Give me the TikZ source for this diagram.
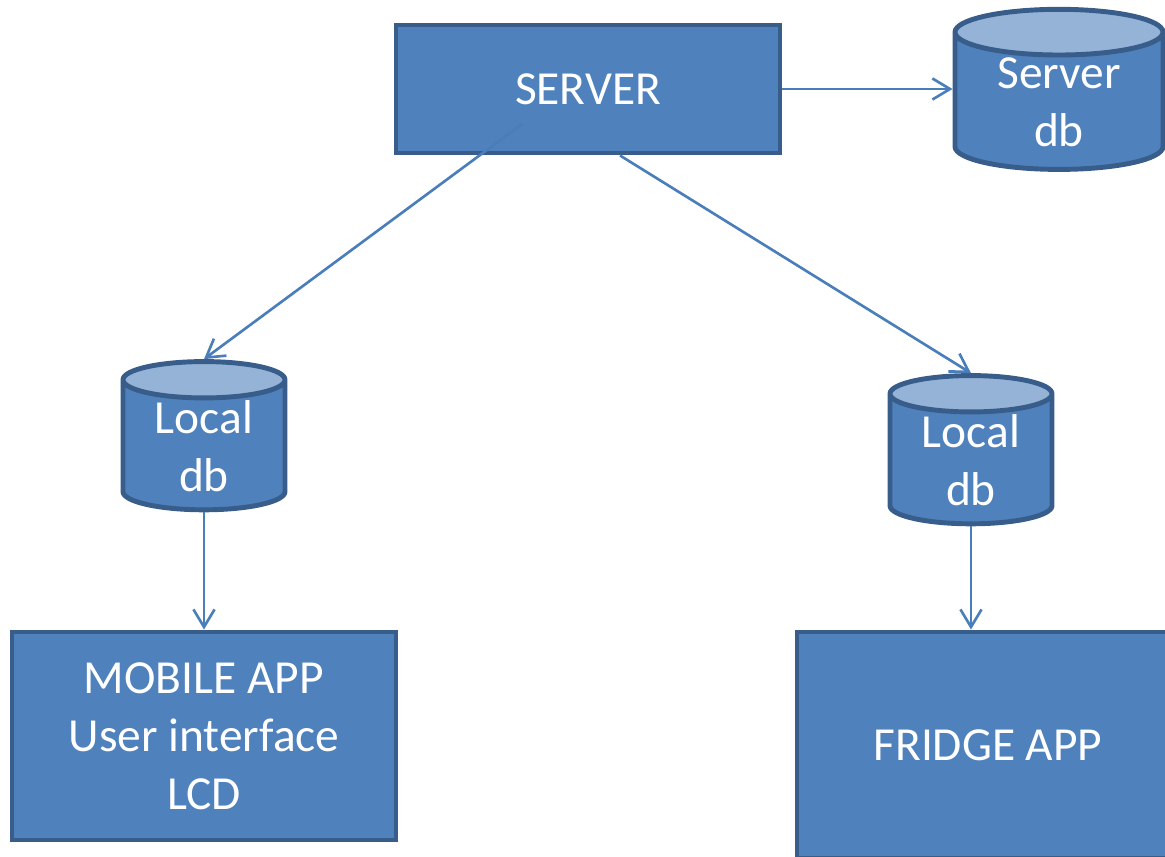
\documentclass[tikz,border=0pt]{standalone}
\usepackage{fontspec}
\setmainfont{Carlito}
\usetikzlibrary{shapes.geometric,arrows.meta,calc}

\definecolor{boxfill}{HTML}{4F81BD}
\definecolor{boxedge}{HTML}{385D8A}
\definecolor{dbtop}{HTML}{95B3D7}
\definecolor{linkcol}{HTML}{4A7EBB}

\tikzset{
  block/.style={rectangle, fill=boxfill, draw=boxedge, line width=1.4pt,
    text=white, align=center, inner sep=0pt,
    font=\fontsize{13.5}{16.5}\selectfont},
  dbase/.style={cylinder, shape border rotate=90, aspect=0.37,
    cylinder uses custom fill, cylinder body fill=boxfill,
    cylinder end fill=dbtop, draw=boxedge, line width=1.4pt,
    text=white, align=center, inner sep=0pt,
    font=\fontsize{13.5}{16.5}\selectfont},
  link/.style={draw=linkcol, line width=0.75pt,
    -{Straight Barb[length=5pt,width=6pt]}}
}

\begin{document}
\begin{tikzpicture}
  \useasboundingbox (0,0) rectangle (11.65,-8.56);
  \clip (0,0) rectangle (11.65,-8.56);

  % boxes
  \node[block, minimum width=3.84cm, minimum height=1.28cm] (server) at (5.88,-0.89) {SERVER};
  \node[block, minimum width=3.84cm, minimum height=2.08cm] (mobile) at (2.04,-7.36)
    {MOBILE APP\\User interface\\LCD};
  \node[block, minimum width=3.82cm, minimum height=2.26cm] (fridge) at (9.88,-7.45) {FRIDGE APP};

  % databases
  \node[dbase, minimum width=2.08cm, minimum height=1.58cm] (sdb) at (10.59,-1.02) {Server\\db};
  \node[dbase, minimum width=1.62cm, minimum height=1.45cm] (ldb) at (2.04,-4.46) {Local\\db};
  \node[dbase, minimum width=1.62cm, minimum height=1.43cm] (rdb) at (9.71,-4.60) {Local\\db};

  % links
  \draw[link] (server.east) -- (server.east -| sdb.west);
  \draw[link] ([shift={(-0.66,-0.35)}]server.center) -- (ldb.north);
  \draw[link] ([xshift=0.32cm]server.south) -- (rdb.north);
  \draw[link] (ldb.south) -- (ldb.south |- mobile.north);
  \draw[link] (rdb.south) -- (rdb.south |- fridge.north);
\end{tikzpicture}
\end{document}
